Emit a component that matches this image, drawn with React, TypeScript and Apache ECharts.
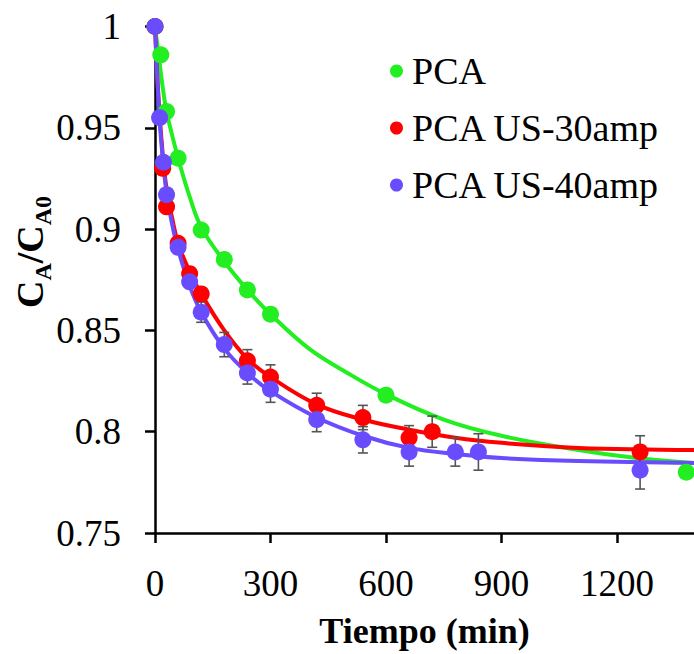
import React, { useEffect, useRef } from "react";
import * as echarts from "echarts";

const SERIF = "Liberation Serif";

const xTicks = [0, 300, 600, 900, 1200];

// Measured points
const pcaX = [0, 15, 30, 60, 120, 180, 240, 300, 600, 1380];
const pcaY = [1.0, 0.986, 0.958, 0.935, 0.8995, 0.885, 0.87, 0.858, 0.818, 0.78];

const us30X = [0, 20, 30, 60, 90, 120, 240, 300, 420, 540, 660, 720, 1260];
const us30Y = [1.0, 0.93, 0.911, 0.893, 0.878, 0.868, 0.835, 0.827, 0.813, 0.807, 0.797, 0.8, 0.79];
const us30Err = [0, 0, 0, 0, 0, 0, 0.0055, 0.006, 0.006, 0.006, 0.006, 0.0077, 0.008];

const us40X = [0, 12, 22, 30, 60, 90, 120, 180, 240, 300, 420, 540, 660, 780, 840, 1260];
const us40Y = [1.0, 0.955, 0.933, 0.917, 0.891, 0.874, 0.859, 0.843, 0.829, 0.821, 0.806, 0.796, 0.79, 0.79, 0.79, 0.781];
const us40Err = [0, 0, 0, 0, 0, 0, 0.005, 0.006, 0.0055, 0.0065, 0.006, 0.0065, 0.007, 0.007, 0.009, 0.0093];

// Fitted curves
const pcaFitX = [0, 10, 20, 30, 45, 60, 90, 120, 180, 240, 300, 400, 500, 600, 750, 900, 1100, 1250, 1400];
const pcaFitY = [1.0, 0.985, 0.97, 0.958, 0.946, 0.935, 0.916, 0.901, 0.884, 0.87, 0.858, 0.841, 0.829, 0.8185, 0.806, 0.798, 0.791, 0.787, 0.7845];

const us30FitX = [0, 10, 20, 30, 45, 60, 90, 120, 180, 240, 300, 420, 540, 660, 780, 900, 1100, 1400];
const us30FitY = [1.0, 0.962, 0.937, 0.92, 0.905, 0.893, 0.879, 0.868, 0.85, 0.836, 0.827, 0.8135, 0.806, 0.801, 0.797, 0.7945, 0.792, 0.791];

const us40FitX = [0, 10, 20, 30, 45, 60, 90, 120, 180, 240, 300, 420, 540, 660, 780, 900, 1100, 1400];
const us40FitY = [1.0, 0.96, 0.935, 0.918, 0.902, 0.89, 0.872, 0.859, 0.841, 0.829, 0.82, 0.807, 0.798, 0.792, 0.789, 0.787, 0.7855, 0.7845];

const names = ["PCA", "PCA US-30amp", "PCA US-40amp"];
const colors = ["#22ee22", "#ff0000", "#6a4cff"];

const zip = (xs: number[], ys: number[]) => xs.map((x, i) => [x, ys[i]]);

function errData(xs: number[], ys: number[], es: number[]) {
  const out: number[][] = [];
  xs.forEach((x, i) => {
    if (es[i] > 0) out.push([x, ys[i] - es[i], ys[i] + es[i]]);
  });
  return out;
}

function errSeries(data: number[][]) {
  return {
    type: "custom",
    z: 2,
    silent: true,
    renderItem: (_p: any, api: any) => {
      const x = api.value(0);
      const lo = api.coord([x, api.value(1)]);
      const hi = api.coord([x, api.value(2)]);
      const w = 5;
      const st = { stroke: "#555555", lineWidth: 1.6 };
      return {
        type: "group",
        children: [
          { type: "line", shape: { x1: lo[0], y1: lo[1], x2: hi[0], y2: hi[1] }, style: st },
          { type: "line", shape: { x1: lo[0] - w, y1: lo[1], x2: lo[0] + w, y2: lo[1] }, style: st },
          { type: "line", shape: { x1: hi[0] - w, y1: hi[1], x2: hi[0] + w, y2: hi[1] }, style: st },
        ],
      };
    },
    data,
  };
}

export default function App() {
  const ref = useRef<HTMLDivElement>(null);
  useEffect(() => {
    if (!ref.current) return;
    const chart = echarts.init(ref.current, null, { renderer: "svg" });
    const lineSeries = (name: string, xs: number[], ys: number[], color: string) => ({
      name,
      type: "line",
      data: zip(xs, ys),
      smooth: 0.4,
      showSymbol: false,
      symbol: "none",
      z: 1,
      lineStyle: { color, width: 4 },
      itemStyle: { color },
    });
    const scatter = (name: string, xs: number[], ys: number[], color: string, z: number) => ({
      name,
      type: "scatter",
      data: zip(xs, ys),
      symbol: "circle",
      symbolSize: 17,
      z,
      itemStyle: { color, opacity: 1 },
    });
    chart.setOption({
      animation: false,
      backgroundColor: "#ffffff",
      textStyle: { fontFamily: SERIF },
      grid: { left: 155, top: 26.5, width: 540, height: 513.5, containLabel: false },
      legend: {
        data: names,
        orient: "vertical",
        left: 385,
        top: 47,
        itemGap: 19,
        itemWidth: 13,
        itemHeight: 13,
        icon: "circle",
        textStyle: { fontFamily: SERIF, fontSize: 38, color: "#000", padding: [0, 0, 0, 4] },
      },
      xAxis: {
        type: "value",
        min: 0,
        max: 1400,
        interval: 300,
        name: "Tiempo (min)",
        nameLocation: "middle",
        nameGap: 80,
        nameTextStyle: { fontFamily: SERIF, fontSize: 36, fontWeight: "bold", color: "#000" },
        axisLine: { lineStyle: { color: "#000", width: 2.5 } },
        axisTick: { show: true, length: 10, lineStyle: { color: "#000", width: 2.5 }, customValues: xTicks },
        axisLabel: {
          fontFamily: SERIF,
          fontSize: 37,
          color: "#000",
          margin: 32,
          customValues: xTicks,
          formatter: (v: number) => String(v),
        },
        splitLine: { show: false },
      },
      yAxis: {
        type: "value",
        min: 0.75,
        max: 1,
        interval: 0.05,
        axisLine: { show: true, lineStyle: { color: "#000", width: 2.5 } },
        axisTick: { show: true, length: 10, lineStyle: { color: "#000", width: 2.5 } },
        axisLabel: {
          fontFamily: SERIF,
          fontSize: 37,
          color: "#000",
          margin: 34,
          formatter: (v: number) => String(Math.round(v * 100) / 100),
        },
        splitLine: { show: false },
      },
      graphic: [
        {
          type: "text",
          x: 30,
          y: 252,
          rotation: Math.PI / 2,
          style: {
            text: "{c|C}{s|A}{c|/C}{s|A0}",
            textAlign: "center",
            textVerticalAlign: "middle",
            fill: "#000",
            rich: {
              c: { fontFamily: SERIF, fontSize: 38, fontWeight: "bold", lineHeight: 50, verticalAlign: "middle", fill: "#000" },
              s: { fontFamily: SERIF, fontSize: 24, fontWeight: "bold", lineHeight: 24, verticalAlign: "bottom", fill: "#000" },
            },
          },
        },
      ],
      series: [
        lineSeries("PCA fit", pcaFitX, pcaFitY, colors[0]),
        lineSeries("PCA US-30amp fit", us30FitX, us30FitY, colors[1]),
        lineSeries("PCA US-40amp fit", us40FitX, us40FitY, colors[2]),
        errSeries(errData(us30X, us30Y, us30Err)),
        errSeries(errData(us40X, us40Y, us40Err)),
        scatter(names[0], pcaX, pcaY, colors[0], 3),
        scatter(names[1], us30X, us30Y, colors[1], 4),
        scatter(names[2], us40X, us40Y, colors[2], 5),
      ],
    });
    return () => chart.dispose();
  }, []);
  return <div ref={ref} style={{ width: 694, height: 654, position: "absolute", left: 0, top: 0 }} />;
}
